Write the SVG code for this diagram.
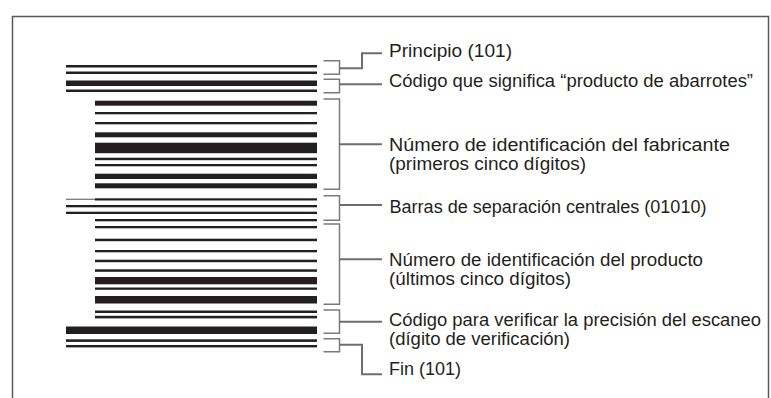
<svg xmlns="http://www.w3.org/2000/svg" width="771" height="398" viewBox="0 0 771 398">
<style>
.bar{fill:#231f20}
.br{fill:none;stroke:#7a7b7e;stroke-width:1.5}
.st{fill:none;stroke:#6d6e71;stroke-width:2}
.t{font-family:"Liberation Sans",Arial,sans-serif;font-size:17.5px;fill:#231f20}
</style>
<rect x="12.5" y="16.5" width="756" height="400" fill="none" stroke="#58595b" stroke-width="1.5"/>
<g id="barcode">
<rect class="bar" x="66" y="65" width="251" height="2.5"/>
<rect class="bar" x="66" y="71.5" width="251" height="2.5"/>
<rect class="bar" x="66" y="80.5" width="251" height="5.5"/>
<rect class="bar" x="66" y="89.5" width="251" height="2.5"/>
<rect class="bar" x="95" y="100.7" width="222" height="5"/>
<rect class="bar" x="95" y="112" width="222" height="2.3"/>
<rect class="bar" x="95" y="122" width="222" height="2.3"/>
<rect class="bar" x="95" y="132.3" width="222" height="5"/>
<rect class="bar" x="95" y="142.7" width="222" height="10.5"/>
<rect class="bar" x="95" y="157.7" width="222" height="2.5"/>
<rect class="bar" x="95" y="164" width="222" height="2.3"/>
<rect class="bar" x="95" y="173.7" width="222" height="5.3"/>
<rect class="bar" x="95" y="183.3" width="222" height="5"/>
<line x1="66" y1="199.3" x2="95" y2="199.3" stroke="#77787b" stroke-width="1.3"/>
<rect class="bar" x="95" y="198.3" width="222" height="2.2"/>
<rect class="bar" x="66" y="205" width="251" height="2.3"/>
<rect class="bar" x="66" y="211.7" width="251" height="2.3"/>
<rect class="bar" x="95" y="219" width="222" height="2.3"/>
<rect class="bar" x="95" y="226" width="222" height="2.3"/>
<rect class="bar" x="95" y="238.7" width="222" height="2.5"/>
<rect class="bar" x="95" y="250" width="222" height="2.3"/>
<rect class="bar" x="95" y="259.7" width="222" height="2.5"/>
<rect class="bar" x="95" y="269.3" width="222" height="2.5"/>
<rect class="bar" x="95" y="277" width="222" height="7.3"/>
<rect class="bar" x="95" y="287.5" width="222" height="2.3"/>
<rect class="bar" x="95" y="296" width="222" height="7.5"/>
<rect class="bar" x="95" y="310.5" width="222" height="2.5"/>
<rect class="bar" x="95" y="315.8" width="222" height="2.6"/>
<rect class="bar" x="66" y="326.5" width="251" height="7.5"/>
<rect class="bar" x="66" y="339.3" width="251" height="2.6"/>
<rect class="bar" x="66" y="345" width="251" height="2.4"/>
</g>
<g id="connectors">
<path class="br" d="M323.5 60.7H339.5V74.3H323.5"/>
<path class="st" d="M339.5 68.3H362V53.3H382"/>
<path class="br" d="M323.5 79.3H339.5V92.7H323.5"/>
<path class="st" d="M339.5 84.3H382"/>
<path class="br" d="M323.5 99H339.5V189.3H323.5"/>
<path class="st" d="M339.5 144.3H382"/>
<path class="br" d="M323.5 195.7H339.5V220.3H323.5"/>
<path class="st" d="M339.5 205H382"/>
<path class="br" d="M323.5 224H339.5V304.3H323.5"/>
<path class="st" d="M339.5 259.3H382"/>
<path class="br" d="M323.5 310H339.5V333.3H323.5"/>
<path class="st" d="M339.5 321.7H382"/>
<path class="br" d="M323.5 338.7H339.5V351.7H323.5"/>
<path class="st" d="M339.5 344.7H362V374.3H382"/>
</g>
<g id="label-principio"><text class="t" x="389" y="56.5" textLength="123" lengthAdjust="spacingAndGlyphs">Principio (101)</text></g>
<g id="label-codigo"><text class="t" x="389" y="87" textLength="364" lengthAdjust="spacingAndGlyphs">Código que significa “producto de abarrotes”</text></g>
<g id="label-fabricante">
<text class="t"><tspan x="389" y="151" textLength="341" lengthAdjust="spacingAndGlyphs">Número de identificación del fabricante</tspan><tspan x="389" y="170" textLength="197" lengthAdjust="spacingAndGlyphs">(primeros cinco dígitos)</tspan></text>
</g>
<g id="label-barras"><text class="t" x="389.5" y="212.5" textLength="317" lengthAdjust="spacingAndGlyphs">Barras de separación centrales (01010)</text></g>
<g id="label-producto">
<text class="t"><tspan x="389" y="265.5" textLength="314" lengthAdjust="spacingAndGlyphs">Número de identificación del producto</tspan><tspan x="389" y="284.5" textLength="182" lengthAdjust="spacingAndGlyphs">(últimos cinco dígitos)</tspan></text>
</g>
<g id="label-verificar">
<text class="t"><tspan x="389" y="325.7" textLength="372" lengthAdjust="spacingAndGlyphs">Código para verificar la precisión del escaneo</tspan><tspan x="389" y="344.7" textLength="181" lengthAdjust="spacingAndGlyphs">(dígito de verificación)</tspan></text>
</g>
<g id="label-fin"><text class="t" x="389" y="374.5" textLength="72" lengthAdjust="spacingAndGlyphs">Fin (101)</text></g>
</svg>
